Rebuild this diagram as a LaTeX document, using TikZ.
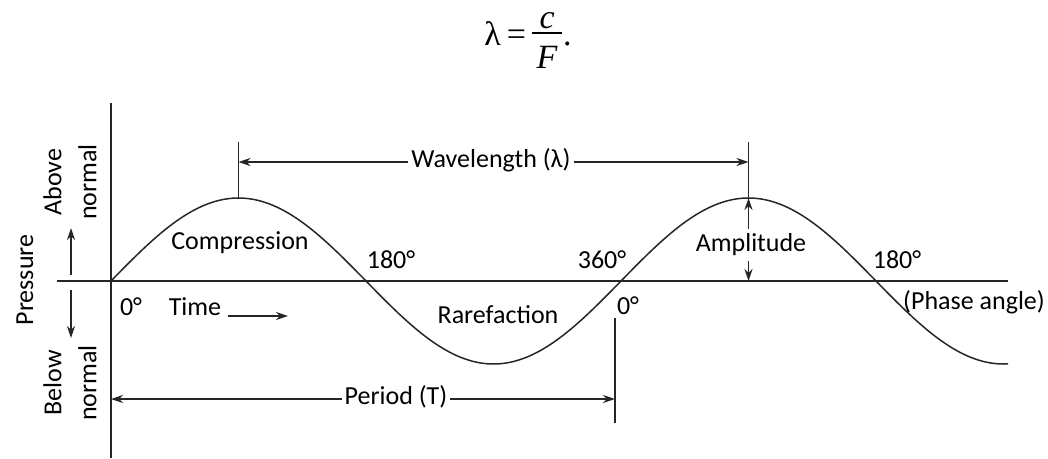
\documentclass[tikz,border=0pt]{standalone}
\usepackage{fontspec}
\setmainfont{Carlito}
\newfontfamily\tnr{Liberation Serif}
\usetikzlibrary{arrows.meta}
\tikzset{
  lbl/.style={font=\fontsize{26}{30}\selectfont, inner sep=0pt},
  dimlbl/.style={lbl, inner xsep=3pt},
  arr/.style={-{Stealth[length=12pt,width=8pt]}},
  ln/.style={line width=1.4pt, black!85},
}
\begin{document}
\begin{tikzpicture}[x=1pt,y=-1pt]
\useasboundingbox (0,0) rectangle (1048,458);
% formula
\node[inner sep=0, anchor=base] (eq) at (528,45) {\fontsize{34}{40}\selectfont\tnr λ\kern6pt=\kern6pt\raisebox{-23pt}{\vbox{\hbox to 30pt{\hss\itshape c\hss}\kern3pt\hrule height 1.5pt\kern12pt\hbox to 30pt{\hss\itshape F\hss}}}\kern1pt.};
% axes
\coordinate (vtop) at (111,103);
\coordinate (vbot) at (111,458);
\coordinate (hl) at (57,281);
\coordinate (hr) at (1008,281);
\draw[ln] (vtop) -- (vbot);
\draw[ln] (hl) -- (hr);
% sine
\draw[ln, line width=1.5pt] plot[domain=111:1008, samples=200, smooth] ({\x},{281-83*sin((\x-111)/510*360)});
% peaks
\coordinate (pk1) at (238.5,198);
\coordinate (pk2) at (748.5,198);
\coordinate (pk1t) at (238.5,142);
\coordinate (pk2t) at (748.5,142);
\draw[ln] (pk1) -- (pk1t);
\draw[ln] (pk2) -- (pk2t);
% wavelength
\node[dimlbl] (W) at (491,160) {Wavelength (λ)};
\coordinate (wl) at (238.5,162);
\coordinate (wr) at (748.5,162);
\draw[ln,arr] (W.west |- wl) -- (wl);
\draw[ln,arr] (W.east |- wr) -- (wr);
% period
\coordinate (pt1) at (615,318);
\coordinate (pt2) at (615,423);
\draw[ln] (pt1) -- (pt2);
\node[dimlbl] (P) at (396,397) {Period (T)};
\coordinate (pl) at (111,399);
\coordinate (pr) at (615,399);
\draw[ln,arr] (P.west |- pl) -- (pl);
\draw[ln,arr] (P.east |- pr) -- (pr);
% amplitude
\node[lbl, inner ysep=5pt] (A) at (751,245) {Amplitude};
\coordinate (a0) at (748.5,281);
\draw[ln,arr] (A.north -| pk2) -- (pk2);
\draw[ln,arr] (A.south -| a0) -- (a0);
% labels
\node[lbl] (comp) at (240,243) {Compression};
\node[lbl] (d180a) at (391,260) {180°};
\node[lbl] (d360) at (602,260) {360°};
\node[lbl] (d180b) at (897,260) {180°};
\node[lbl] (phase) at (974,302) {(Phase angle)};
\node[lbl] (d0b) at (628,306) {0°};
\node[lbl] (d0a) at (131,307) {0°};
\node[lbl] (time) at (195,307) {Time};
\coordinate (ta) at (228,316);
\coordinate (tb) at (288,316);
\draw[ln,arr] (ta) -- (tb);
\node[lbl] (rare) at (498,315) {Rarefaction};
% pressure labels
\node[lbl, rotate=90] (press) at (25,280) {Pressure};
\node[lbl, rotate=90, align=center, font=\fontsize{26}{35}\selectfont] (above) at (70,182) {Above\\normal};
\node[lbl, rotate=90, align=center, font=\fontsize{26}{35}\selectfont] (below) at (70,383) {Below\\normal};
\coordinate (u1) at (71,275);
\coordinate (u2) at (71,228);
\coordinate (d1) at (71,290);
\coordinate (d2) at (71,338);
\draw[ln,arr] (u1) -- (u2);
\draw[ln,arr] (d1) -- (d2);
\end{tikzpicture}
\end{document}
